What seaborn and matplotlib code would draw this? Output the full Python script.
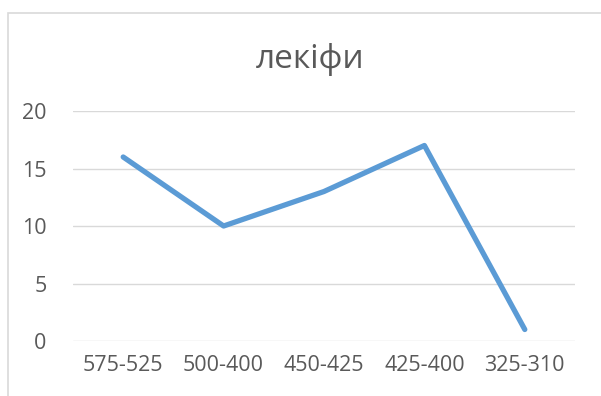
import matplotlib
matplotlib.use("Agg")
import matplotlib.pyplot as plt
import seaborn as sns
import pandas as pd
from matplotlib.patches import Rectangle

categories = ["575-525", "500-400", "450-425", "425-400", "325-310"]
values = [16, 10, 13, 17, 1]
title = "лекіфи"

GRAY_TEXT = "#595959"
GRID = "#D9D9D9"
LINE = "#5B9BD5"


def main():
    sns.set_theme(style="white")
    plt.rcParams['font.family'] = ['Open Sans', 'DejaVu Sans']

    df = pd.DataFrame({"pos": range(len(categories)), "value": values})

    fig = plt.figure(figsize=(6.01, 3.96), dpi=100)
    ax = fig.add_axes([73 / 601, 1 - 341 / 396, (575 - 73) / 601, (341 - 111) / 396])

    sns.lineplot(data=df, x="pos", y="value", ax=ax, color=LINE,
                 linewidth=3.8, solid_capstyle="round", solid_joinstyle="round")

    ax.set_xlim(-0.5, len(categories) - 0.5)
    ax.set_ylim(0, 20)
    ax.set_yticks([0, 5, 10, 15, 20])
    ax.set_xticks(range(len(categories)))
    ax.set_xticklabels(categories)
    ax.set_xlabel("")
    ax.set_ylabel("")

    ax.yaxis.grid(True, color=GRID, linewidth=1.0)
    ax.set_axisbelow(True)
    for s in ax.spines.values():
        s.set_visible(False)
    ax.tick_params(axis="both", length=0, labelsize=15.5, colors=GRAY_TEXT)
    ax.tick_params(axis="x", pad=10)
    ax.tick_params(axis="y", pad=19)

    fig.text(310 / 601, 1 - 68 / 396, title, ha="center", va="baseline",
             fontsize=24, color=GRAY_TEXT)

    # chart-area border, cut off at right and bottom like the source
    fig.patches.append(Rectangle((8 / 601, -0.1), 1.2, 1 - 13 / 396 + 0.1,
                                 transform=fig.transFigure, fill=False,
                                 edgecolor=GRID, linewidth=1.2))

    fig.savefig("out.png", dpi=100)


if __name__ == '__main__':
    main()
